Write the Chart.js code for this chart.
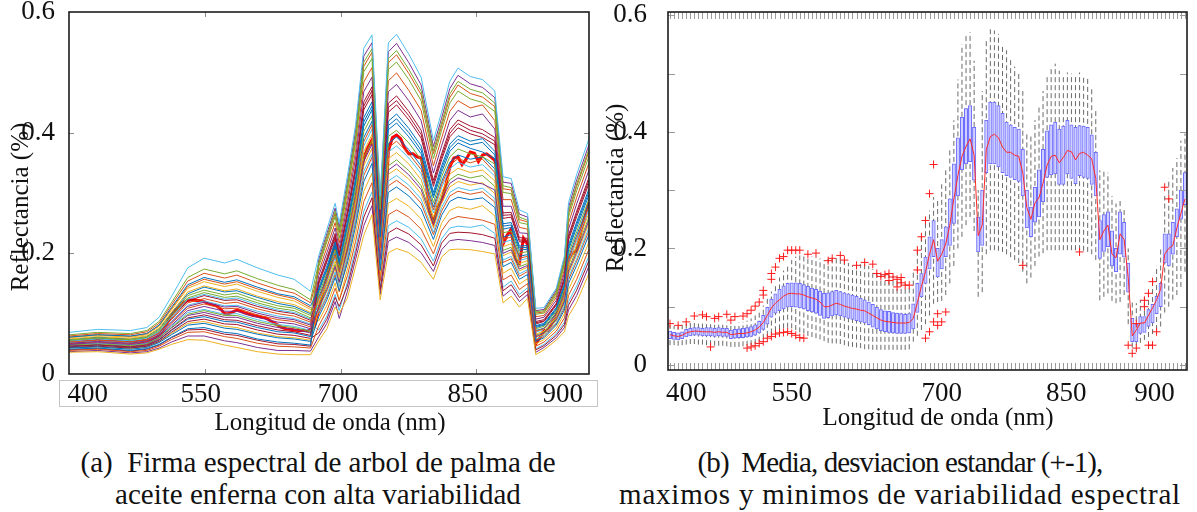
<!DOCTYPE html>
<html>
<head>
<meta charset="utf-8">
<script src="https://cdn.jsdelivr.net/npm/chart.js@4.4.0/dist/chart.umd.min.js"></script>
<style>
  body { margin: 0; background: #fff; width: 1197px; height: 512px; position: relative; overflow: hidden;
         font-family: "Liberation Serif", "DejaVu Serif", serif; color: #111; }
  canvas { position: absolute; top: 0; }
  .ylab { position: absolute; width: 220px; height: 30px; line-height: 30px; font-size: 25px;
          text-align: center; white-space: nowrap; transform: rotate(-90deg); }
  .xlab { position: absolute; width: 400px; height: 30px; line-height: 30px; font-size: 25px;
          text-align: center; white-space: nowrap; }
  .cap { position: absolute; width: 600px; font-size: 29px; line-height: 32px; text-align: center; white-space: nowrap; }
</style>
</head>
<body>
<canvas id="left" width="600" height="412" style="left:0"></canvas>
<canvas id="right" width="597" height="412" style="left:600px"></canvas>

<div class="ylab" style="left:-90px;top:192px">Reflectancia (%)</div>
<div class="ylab" style="left:505px;top:173px">Reflectancia (%)</div>
<div class="xlab" style="left:130px;top:407px">Longitud de onda (nm)</div>
<div class="xlab" style="left:738px;top:402px">Longitud de onda (nm)</div>
<div class="cap" style="left:18px;top:446px">(a)&nbsp; Firma espectral de arbol de palma de<br>aceite enferna con alta variabilidad</div>
<div class="cap" style="left:600px;top:446px"><span style="letter-spacing:-0.9px">(b)&nbsp; Media, desviacion estandar (+-1),</span><br><span style="letter-spacing:0.8px">maximos y minimos de variabilidad espectral</span></div>

<script>
// band index 1..128 (same bands in both panels)
const bands = Array.from({length: 128}, (_, i) => i + 1);
const wavelengthLabels = ['400', '550', '700', '850', '900'];
const leftLabelAt = [5.6, 33.2, 66.7, 98.4, 121.6];
const rightLabelAt = [5, 31, 68, 98.7, 120.5];
const leftTickAt = [34.2, 67.4, 100.4];
const yTickValues = [0, 0.2, 0.4, 0.6];
const yTickLabels = ['0', '0.2', '0.4', '0.6'];

// media por banda
const meanRefl = [
  .052,.050,.049,.051,.055,.057,.058,.058,.057,.057,
  .057,.056,.057,.056,.056,.052,.053,.054,.054,.055,
  .057,.060,.065,.073,.085,.098,.106,.112,.118,.122,
  .123,.122,.122,.120,.117,.115,.113,.108,.100,.100,
  .103,.106,.104,.101,.099,.097,.096,.094,.093,.089,
  .085,.081,.077,.075,.074,.073,.072,.072,.072,.073,
  .080,.107,.135,.160,.190,.215,.178,.190,.208,.240,
  .285,.325,.358,.375,.388,.360,.222,.240,.370,.392,
  .396,.390,.374,.365,.365,.360,.358,.330,.270,.250,
  .278,.287,.312,.343,.358,.360,.347,.356,.368,.366,
  .352,.363,.365,.360,.354,.320,.215,.230,.240,.190,
  .184,.225,.215,.150,.050,.060,.072,.072,.085,.098,
  .112,.130,.190,.200,.205,.235,.260,.285];

// media - 1 desviacion
const boxLow = [
  .045,.044,.043,.045,.048,.050,.051,.051,.050,.050,
  .050,.049,.050,.049,.049,.045,.046,.047,.047,.048,
  .049,.051,.055,.061,.070,.082,.089,.093,.096,.099,
  .100,.099,.098,.096,.093,.091,.089,.085,.080,.081,
  .084,.086,.084,.082,.080,.078,.076,.074,.072,.069,
  .065,.062,.059,.057,.056,.055,.054,.054,.054,.055,
  .062,.090,.117,.140,.165,.186,.151,.165,.186,.205,
  .243,.290,.335,.345,.349,.317,.194,.205,.330,.345,
  .345,.340,.330,.325,.322,.318,.315,.290,.235,.220,
  .245,.254,.280,.322,.326,.328,.310,.310,.328,.320,
  .311,.325,.322,.320,.310,.290,.183,.195,.203,.170,
  .160,.190,.185,.125,.040,.040,.054,.056,.066,.072,
  .088,.100,.175,.170,.190,.220,.250,.275];

// media + 1 desviacion
const boxHigh = [
  .058,.056,.055,.057,.061,.063,.064,.064,.063,.064,
  .064,.063,.064,.063,.063,.060,.061,.062,.063,.064,
  .066,.069,.075,.085,.099,.113,.122,.130,.136,.140,
  .141,.141,.140,.138,.135,.132,.130,.127,.123,.124,
  .126,.128,.126,.124,.122,.120,.118,.115,.112,.108,
  .104,.099,.095,.093,.092,.090,.089,.088,.087,.088,
  .105,.140,.157,.185,.220,.248,.200,.215,.237,.285,
  .345,.390,.425,.440,.445,.408,.254,.300,.420,.451,
  .451,.445,.432,.417,.412,.408,.405,.370,.300,.271,
  .305,.335,.370,.402,.412,.417,.405,.410,.420,.412,
  .408,.411,.410,.408,.395,.365,.248,.258,.263,.230,
  .200,.263,.245,.175,.080,.070,.083,.083,.095,.104,
  .118,.140,.225,.225,.245,.268,.300,.330];

// minimos (bigote inferior)
const whiskerLow = [
  .034,.034,.033,.034,.035,.036,.036,.035,.035,.034,
  .034,.033,.033,.033,.032,.031,.031,.031,.032,.033,
  .034,.036,.040,.045,.050,.054,.058,.061,.063,.064,
  .063,.060,.056,.054,.050,.048,.046,.044,.041,.038,
  .037,.037,.036,.034,.032,.031,.030,.029,.027,.027,
  .026,.026,.026,.026,.026,.026,.026,.026,.026,.027,
  .040,.050,.060,.070,.085,.105,.108,.110,.120,.140,
  .170,.200,.220,.240,.254,.230,.117,.125,.190,.197,
  .197,.196,.194,.190,.185,.180,.175,.160,.140,.150,
  .170,.186,.192,.197,.197,.197,.197,.197,.197,.197,
  .197,.197,.196,.194,.190,.180,.111,.117,.123,.110,
  .106,.108,.120,.070,.030,.034,.038,.043,.048,.053,
  .060,.066,.090,.100,.112,.120,.134,.160];

// maximos (bigote superior)
const whiskerHigh = [
  .068,.067,.066,.069,.071,.072,.073,.073,.072,.073,
  .074,.073,.075,.074,.074,.071,.072,.073,.074,.076,
  .080,.085,.092,.102,.114,.126,.138,.150,.162,.172,
  .180,.186,.188,.188,.187,.186,.185,.183,.180,.182,
  .185,.186,.184,.180,.175,.171,.172,.173,.174,.170,
  .165,.160,.157,.156,.155,.153,.151,.147,.140,.134,
  .160,.200,.225,.245,.265,.288,.285,.310,.334,.370,
  .420,.490,.550,.565,.571,.522,.300,.470,.560,.576,
  .574,.568,.550,.540,.525,.512,.502,.470,.400,.394,
  .420,.442,.470,.494,.508,.517,.505,.497,.502,.500,
  .497,.502,.498,.494,.478,.440,.334,.334,.330,.290,
  .277,.285,.270,.200,.111,.106,.112,.117,.130,.145,
  .170,.200,.290,.320,.338,.355,.385,.397];

// valores atipicos (+)
const outlierBand = [
  1,3,5,7,9,10,12,13,15,16,17,19,20,21,22,23,24,24,26,26,
  27,28,29,30,31,32,33,35,37,40,41,43,44,47,49,51,52,53,54,55,
  55,56,57,57,58,58,59,60,
  11,20,21,22,23,24,25,26,27,28,29,30,31,32,33,34,
  62,62,63,64,65,66,64,65,66,67,67,68,69,
  88,102,114,115,116,116,118,118,119,120,120,119,121,123,124];
const outlierRefl = [
  .071,.068,.074,.084,.086,.083,.080,.083,.087,.077,.083,.084,.088,.094,.101,.108,.120,.128,.147,.157,
  .168,.183,.186,.197,.197,.197,.197,.190,.192,.179,.183,.188,.180,.171,.176,.173,.157,.152,.155,.145,
  .157,.151,.134,.147,.141,.150,.137,.137,
  .031,.029,.031,.033,.037,.040,.046,.049,.053,.055,.056,.057,.054,.051,.047,.046,
  .163,.197,.220,.248,.294,.344,.046,.057,.074,.088,.068,.074,.091,
  .171,.194,.034,.020,.029,.071,.100,.111,.123,.143,.034,.034,.057,.305,.285];

// firmas individuales (panel a), muestreadas en estas bandas
const spectraBands = [1,8,16,20,23,26,30,34,39,42,47,52,56,60,
  62,64,66,67,69,71,73,75,77,79,81,84,87,90,92,94,96,99,102,105,107,109,111,113,115,117,120,122,123,125,128];
const spec01 = [.069,.074,.072,.077,.094,.128,.176,.192,.184,.190,.176,.164,.157,.137,
  .196,.240,.283,.250,.328,.413,.540,.562,.295,.549,.563,.530,.492,.387,.434,.485,.507,.493,.488,.469,.327,.324,.272,.266,.109,.110,.142,.196,.284,.331,.390];
const spec02 = [.036,.037,.033,.035,.041,.049,.057,.056,.048,.044,.037,.033,.032,.032,
  .055,.075,.111,.100,.126,.178,.230,.264,.123,.201,.208,.201,.185,.157,.194,.206,.207,.206,.203,.199,.118,.129,.111,.125,.032,.040,.056,.070,.096,.119,.167];
const spec03 = [.061,.065,.063,.067,.081,.110,.148,.160,.152,.156,.144,.133,.128,.113,
  .140,.175,.215,.185,.248,.320,.418,.444,.227,.412,.423,.400,.371,.296,.340,.375,.389,.380,.384,.363,.245,.247,.209,.210,.079,.082,.108,.146,.210,.248,.302];
const spec04 = [.056,.060,.057,.061,.073,.098,.130,.139,.131,.134,.122,.113,.109,.097,
  .178,.219,.261,.225,.302,.383,.501,.523,.273,.505,.517,.488,.453,.357,.404,.449,.469,.456,.450,.435,.301,.299,.251,.248,.099,.101,.131,.180,.260,.304,.361];
const spec05 = [.053,.056,.053,.057,.068,.090,.118,.125,.117,.119,.108,.100,.096,.086,
  .125,.158,.197,.168,.227,.295,.385,.413,.209,.375,.386,.365,.339,.272,.314,.346,.357,.350,.356,.334,.223,.227,.192,.195,.071,.075,.099,.133,.190,.225,.279];
const spec06 = [.049,.052,.049,.052,.062,.081,.105,.112,.104,.104,.094,.086,.083,.075,
  .110,.140,.178,.152,.206,.270,.352,.381,.190,.338,.348,.330,.306,.248,.288,.316,.325,.319,.315,.305,.200,.206,.174,.180,.062,.068,.090,.120,.170,.202,.255];
const spec07 = [.046,.048,.045,.048,.057,.073,.093,.098,.090,.089,.080,.073,.070,.064,
  .155,.193,.233,.200,.270,.345,.451,.476,.245,.449,.461,.435,.404,.321,.365,.405,.421,.411,.405,.392,.267,.268,.226,.225,.087,.090,.117,.160,.230,.270,.326];
const spec08 = [.043,.045,.041,.044,.052,.065,.081,.084,.076,.074,.066,.060,.058,.054,
  .095,.123,.160,.138,.184,.245,.319,.349,.172,.301,.310,.295,.273,.223,.263,.286,.293,.289,.292,.276,.178,.185,.157,.165,.054,.060,.081,.106,.150,.180,.231];
const spec09 = [.039,.041,.037,.039,.046,.057,.069,.070,.062,.059,.051,.046,.045,.043,
  .080,.105,.142,.122,.163,.220,.286,.317,.154,.264,.272,.260,.240,.199,.237,.256,.261,.258,.255,.248,.156,.164,.140,.150,.046,.053,.071,.093,.130,.157,.207];
const spec10 = [.058,.062,.059,.063,.076,.102,.136,.146,.138,.141,.129,.120,.115,.102,
  .118,.149,.187,.160,.216,.283,.369,.397,.199,.357,.367,.348,.322,.260,.301,.331,.341,.334,.338,.320,.211,.216,.183,.188,.066,.071,.094,.126,.180,.214,.267];
const spec11 = [.051,.054,.051,.055,.065,.086,.112,.119,.111,.112,.101,.093,.090,.081,
  .163,.201,.242,.208,.281,.358,.468,.492,.254,.468,.480,.453,.420,.333,.378,.420,.437,.426,.431,.406,.278,.278,.234,.233,.091,.094,.122,.167,.240,.282,.338];
const spec12 = [.048,.050,.047,.050,.060,.077,.099,.105,.097,.097,.087,.080,.077,.070,
  .133,.166,.206,.176,.238,.308,.402,.428,.218,.394,.404,.383,.355,.284,.327,.360,.373,.365,.360,.348,.234,.237,.200,.203,.075,.079,.104,.140,.200,.236,.290];
const spec13 = [.054,.058,.055,.059,.070,.094,.124,.132,.124,.126,.115,.106,.102,.091,
  .103,.131,.169,.145,.195,.258,.336,.365,.181,.320,.329,.313,.290,.235,.276,.301,.309,.304,.308,.291,.189,.195,.166,.173,.058,.064,.085,.113,.160,.191,.243];
const spec14 = [.044,.046,.043,.046,.054,.069,.087,.091,.083,.082,.073,.066,.064,.059,
  .068,.091,.127,.112,.146,.200,.260,.292,.139,.234,.242,.232,.214,.179,.217,.233,.235,.234,.231,.225,.138,.148,.127,.138,.040,.047,.064,.082,.114,.139,.188];
const spec15 = [.041,.043,.039,.042,.049,.061,.075,.077,.069,.067,.058,.053,.051,.048,
  .143,.179,.219,.188,.253,.325,.425,.451,.230,.419,.431,.407,.378,.301,.345,.381,.395,.386,.390,.369,.249,.251,.212,.213,.080,.084,.110,.149,.214,.252,.307];
const spec16 = [.063,.067,.065,.070,.084,.114,.154,.167,.159,.164,.151,.140,.134,.118,
  .170,.210,.251,.217,.291,.370,.484,.508,.263,.486,.499,.470,.437,.345,.391,.435,.453,.441,.446,.420,.289,.289,.243,.240,.095,.097,.127,.173,.250,.293,.350];
const spec17 = [.065,.069,.067,.072,.087,.118,.160,.174,.166,.171,.158,.147,.140,.123,
  .185,.228,.270,.237,.313,.395,.517,.539,.282,.523,.536,.505,.469,.370,.416,.464,.485,.472,.466,.449,.312,.309,.260,.255,.103,.105,.136,.187,.270,.315,.373];
const spec18 = [.037,.039,.035,.037,.043,.053,.063,.063,.055,.052,.044,.039,.039,.038,
  .062,.084,.120,.092,.137,.190,.246,.279,.132,.220,.227,.218,.201,.170,.206,.221,.223,.221,.218,.213,.129,.140,.120,.132,.036,.044,.060,.077,.106,.130,.179];
const spec19 = [.060,.064,.061,.065,.079,.106,.142,.153,.145,.149,.137,.127,.121,.107,
  .088,.114,.151,.122,.174,.233,.303,.333,.163,.283,.291,.278,.257,.211,.250,.271,.277,.273,.279,.262,.167,.175,.149,.158,.050,.057,.076,.100,.140,.169,.219];
const spec20 = [.054,.057,.054,.058,.069,.092,.121,.130,.122,.123,.112,.104,.100,.089,
  .149,.186,.226,.195,.261,.335,.438,.463,.238,.434,.446,.421,.391,.311,.355,.393,.408,.398,.392,.380,.258,.260,.219,.219,.083,.087,.114,.154,.222,.261,.316];
const spec21 = [.048,.051,.048,.051,.061,.079,.102,.107,.099,.100,.090,.082,.079,.072,
  .122,.154,.193,.163,.223,.290,.378,.406,.205,.368,.378,.358,.332,.267,.309,.340,.351,.343,.347,.328,.218,.222,.188,.192,.069,.074,.097,.130,.186,.220,.274];
const spec22 = [.045,.048,.044,.047,.056,.072,.091,.095,.087,.086,.077,.070,.068,.062,
  .137,.172,.211,.181,.244,.315,.411,.438,.223,.405,.416,.393,.365,.292,.334,.369,.383,.374,.368,.357,.240,.243,.205,.207,.077,.081,.106,.144,.206,.243,.297];
const spec23 = [.055,.059,.056,.060,.071,.095,.126,.135,.127,.129,.118,.109,.105,.093,
  .113,.144,.182,.152,.210,.275,.359,.387,.194,.345,.355,.337,.312,.252,.294,.322,.331,.325,.329,.311,.205,.210,.178,.183,.064,.069,.092,.122,.174,.207,.260];
const spec24 = [.050,.053,.050,.054,.064,.084,.109,.116,.108,.109,.098,.090,.087,.078,
  .182,.224,.266,.234,.308,.390,.510,.533,.278,.516,.529,.498,.463,.365,.411,.458,.479,.465,.459,.443,.307,.305,.256,.252,.101,.103,.134,.184,.266,.311,.369];
const spec25 = [.043,.045,.042,.045,.053,.067,.084,.087,.079,.077,.068,.062,.060,.056,
  .107,.137,.175,.145,.201,.265,.345,.374,.187,.331,.340,.323,.299,.243,.283,.310,.319,.313,.317,.299,.196,.202,.171,.177,.061,.066,.088,.117,.166,.198,.250];
const spec26 = [.052,.055,.052,.055,.066,.087,.114,.121,.113,.114,.104,.096,.092,.083,
  .073,.096,.132,.105,.152,.208,.270,.302,.144,.246,.254,.243,.224,.187,.224,.242,.245,.243,.247,.233,.144,.154,.132,.143,.042,.049,.067,.086,.120,.146,.196];
const spec27 = [.047,.049,.046,.049,.059,.076,.097,.102,.094,.094,.084,.077,.074,.068,
  .190,.233,.275,.243,.319,.403,.527,.549,.287,.534,.548,.516,.479,.377,.424,.473,.495,.481,.475,.458,.318,.316,.265,.260,.105,.107,.139,.191,.276,.322,.380];
const spec28 = [.057,.061,.058,.062,.075,.100,.133,.144,.136,.138,.127,.117,.112,.100,
  .128,.161,.200,.170,.231,.300,.392,.419,.212,.382,.393,.372,.345,.277,.319,.351,.363,.356,.360,.340,.227,.231,.195,.198,.072,.076,.101,.136,.194,.230,.283];
const spec29 = [.040,.042,.038,.041,.048,.060,.073,.074,.066,.064,.056,.050,.049,.046,
  .152,.189,.229,.198,.266,.340,.444,.470,.241,.442,.453,.428,.397,.316,.360,.399,.415,.404,.398,.386,.263,.264,.222,.222,.085,.088,.116,.157,.226,.266,.321];
const spec30 = [.061,.065,.062,.067,.080,.108,.145,.157,.149,.153,.141,.131,.125,.110,
  .100,.128,.165,.136,.191,.253,.329,.359,.177,.312,.321,.306,.283,.231,.270,.295,.303,.298,.302,.285,.185,.191,.162,.170,.057,.062,.083,.110,.156,.187,.238];
const spectra = [spec01, spec02, spec03, spec04, spec05, spec06, spec07, spec08, spec09, spec10,
                 spec11, spec12, spec13, spec14, spec15, spec16, spec17, spec18, spec19, spec20,
                 spec21, spec22, spec23, spec24, spec25, spec26, spec27, spec28, spec29, spec30];
const lineColors = ['#4DBEEE','#EDB120','#0072BD','#77AC30','#D95319','#7E2F8E','#A2142F','#0072BD',
                    '#D95319','#EDB120','#7E2F8E','#77AC30','#4DBEEE','#A2142F','#0072BD','#D95319',
                    '#77AC30','#7E2F8E','#EDB120','#A2142F','#4DBEEE','#0072BD','#77AC30','#D95319',
                    '#EDB120','#4DBEEE','#7E2F8E','#0072BD','#A2142F','#D95319'];

const serif = '"Liberation Serif", "DejaVu Serif", serif';

// marco negro, marcas interiores y recuadro de etiquetas
const decor = {
  id: 'decor',
  afterDraw(chart, args, o) {
    const {ctx, chartArea: a} = chart;
    const x = chart.scales.x, y = chart.scales.y;
    ctx.save();
    ctx.strokeStyle = o.tickColor;
    ctx.lineWidth = 1;
    ctx.beginPath();
    o.xMarks.forEach(v => {
      const px = Math.round(x.getPixelForValue(v)) + 0.5;
      ctx.moveTo(px, a.top); ctx.lineTo(px, a.top + o.len);
      ctx.moveTo(px, a.bottom); ctx.lineTo(px, a.bottom - o.len);
    });
    o.yMarks.forEach(v => {
      const py = Math.round(y.getPixelForValue(v)) + 0.5;
      ctx.moveTo(a.left, py); ctx.lineTo(a.left + o.len, py);
      ctx.moveTo(a.right, py); ctx.lineTo(a.right - o.len, py);
    });
    ctx.stroke();
    ctx.strokeStyle = '#1c1c1c';
    ctx.lineWidth = 1.6;
    ctx.strokeRect(a.left, a.top, a.right - a.left, a.bottom - a.top);
    if (o.labelBox) {
      ctx.strokeStyle = '#c4c4c4';
      ctx.lineWidth = 1;
      ctx.strokeRect(a.left - 9.5, a.bottom + 6.5, a.right - a.left + 18, 26);
    }
    ctx.restore();
  }
};

function xAxis(min, max, at, pad, h) {
  return {
    type: 'linear', min: min, max: max, offset: false,
    grid: {display: false}, border: {display: false},
    afterBuildTicks: s => { s.ticks = at.map(v => ({value: v})); },
    afterFit: s => { s.height = h; s.paddingLeft = 0; s.paddingRight = 0; },
    ticks: {autoSkip: false, maxRotation: 0, padding: pad, color: '#111',
            font: {family: serif, size: 27}, callback: (v, i) => wavelengthLabels[i]}
  };
}

function yAxis(min, max, pad, w) {
  return {
    type: 'linear', min: min, max: max,
    grid: {display: false}, border: {display: false},
    afterBuildTicks: s => { s.ticks = yTickValues.map(v => ({value: v})); },
    afterFit: s => { s.width = w; s.paddingTop = 0; s.paddingBottom = 0; },
    ticks: {padding: pad, color: '#111', font: {family: serif, size: 27},
            callback: (v, i) => yTickLabels[i]}
  };
}

Chart.defaults.font.family = serif;

// panel (a)
const leftSets = spectra.map((s, k) => ({
  data: s.map((v, j) => ({x: spectraBands[j], y: v})),
  borderColor: lineColors[k], borderWidth: 1, pointRadius: 0, tension: 0
}));
leftSets.push({
  data: meanRefl.map((v, i) => ({x: bands[i], y: v})),
  borderColor: '#ff0000', borderWidth: 3, pointRadius: 0, tension: 0
});

new Chart(document.getElementById('left'), {
  type: 'line',
  data: {datasets: leftSets},
  options: {
    responsive: false, animation: false,
    layout: {padding: {top: 12, right: 11, left: 0, bottom: 0}},
    plugins: {
      legend: {display: false}, tooltip: {enabled: false},
      decor: {xMarks: leftTickAt, yMarks: [0.2, 0.4], len: 5, tickColor: '#8a8a8a', labelBox: true}
    },
    scales: {x: xAxis(1, 128, leftLabelAt, -3, 38), y: yAxis(0, 0.6, 6, 69)}
  },
  plugins: [decor]
});

// panel (b)
const whiskerPts = [];
bands.forEach((b, i) => {
  whiskerPts.push({x: b, y: whiskerLow[i]}, {x: b, y: whiskerHigh[i]}, {x: b, y: null});
});

new Chart(document.getElementById('right'), {
  type: 'bar',
  data: {datasets: [
    {type: 'line', data: outlierBand.map((b, i) => ({x: b, y: outlierRefl[i]})), showLine: false,
     pointStyle: 'cross', pointRadius: 4, pointBorderColor: '#ff1a1a', pointBorderWidth: 1, order: 0},
    {type: 'line', data: meanRefl.map((v, i) => ({x: bands[i], y: v})), borderColor: '#ff2a2a',
     borderWidth: 1, pointRadius: 0, tension: 0, order: 1},
    {type: 'bar', data: bands.map((b, i) => ({x: b, y: [boxLow[i], boxHigh[i]]})),
     backgroundColor: '#cfcfff', borderColor: '#6c6cff', borderWidth: 1, borderSkipped: false,
     barThickness: 3.4, order: 2},
    {type: 'line', data: whiskerPts, borderColor: 'rgba(70,70,70,0.8)', borderWidth: 1,
     borderDash: [5, 3], pointRadius: 0, spanGaps: false, order: 3}
  ]},
  options: {
    responsive: false, animation: false,
    layout: {padding: {top: 12, right: 10, left: 0, bottom: 0}},
    plugins: {
      legend: {display: false}, tooltip: {enabled: false},
      decor: {xMarks: bands, yMarks: [0, 0.1, 0.2, 0.3, 0.4, 0.5, 0.6], len: 7, tickColor: '#9a9a9a', labelBox: false}
    },
    scales: {x: xAxis(0.5, 128.5, rightLabelAt, 0, 42), y: yAxis(-0.0086, 0.6057, 13, 68)}
  },
  plugins: [decor]
});
</script>
</body>
</html>
